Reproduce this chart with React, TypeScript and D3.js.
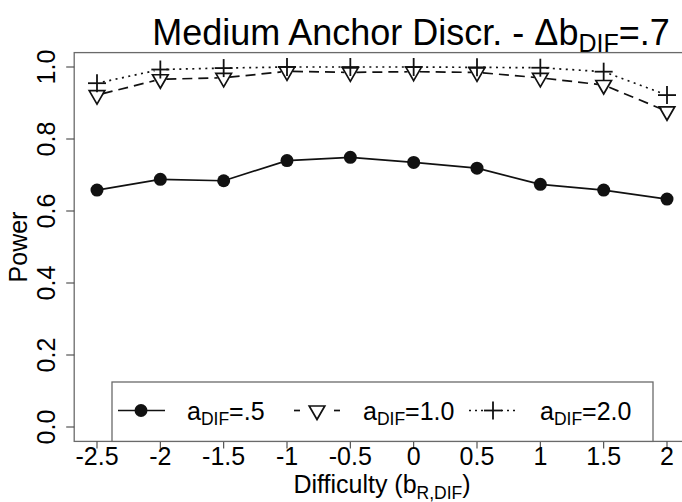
import React from "react";
import * as d3 from "d3";

const difficulty = [-2.5, -2, -1.5, -1, -0.5, 0, 0.5, 1, 1.5, 2];
const powerA05 = [0.658, 0.688, 0.684, 0.740, 0.749, 0.735, 0.719, 0.674, 0.658, 0.633];
const powerA10 = [0.922, 0.966, 0.970, 0.988, 0.985, 0.987, 0.985, 0.970, 0.950, 0.877];
const powerA20 = [0.955, 0.993, 0.997, 1.0, 1.0, 1.0, 0.999, 0.998, 0.987, 0.922];
const xTicks = [-2.5, -2, -1.5, -1, -0.5, 0, 0.5, 1, 1.5, 2];
const xTickLabels = ["-2.5", "-2", "-1.5", "-1", "-0.5", "0", "0.5", "1", "1.5", "2"];
const yTicks = [0, 0.2, 0.4, 0.6, 0.8, 1.0];
const yTickLabels = ["0.0", "0.2", "0.4", "0.6", "0.8", "1.0"];
const legendLabels = [".5", "1.0", "2.0"];

const FONT = "'Liberation Sans', Arial, Helvetica, sans-serif";
const INK = "#111";

function Circle({ cx, cy }: { cx: number; cy: number }) {
  return <circle cx={cx} cy={cy} r={6.5} fill={INK} stroke="none" />;
}
function TriDown({ cx, cy }: { cx: number; cy: number }) {
  const r = 9;
  const xc = r * 0.866;
  const pts = `${cx},${cy + r} ${cx + xc},${cy - r / 2} ${cx - xc},${cy - r / 2}`;
  return <polygon points={pts} fill="none" stroke={INK} strokeWidth={1.7} strokeLinejoin="miter" />;
}
function Plus({ cx, cy }: { cx: number; cy: number }) {
  const h = 9;
  return (
    <g stroke={INK} strokeWidth={1.8}>
      <line x1={cx - h} x2={cx + h} y1={cy} y2={cy} />
      <line x1={cx} x2={cx} y1={cy - h} y2={cy + h} />
    </g>
  );
}

export default function App() {
  const x = d3.scaleLinear().domain([-2.5, 2]).range([97, 667]);
  const y = d3.scaleLinear().domain([0, 1]).range([427, 67]);
  const left = x(-2.68);
  const right = x(2.18);
  const top = y(1.04);
  const bottom = y(-0.04);
  const cxPlot = (left + right) / 2;
  const cyPlot = (top + bottom) / 2;

  const series = [
    { values: powerA05, dash: undefined as string | undefined, gap: 0, marker: "circle" },
    { values: powerA10, dash: "10,6", gap: 6, marker: "tri" },
    { values: powerA20, dash: "2,4.5", gap: 6, marker: "plus" },
  ];

  const segs = (values: number[], gap: number) => {
    const out: { x1: number; y1: number; x2: number; y2: number }[] = [];
    for (let i = 0; i < values.length - 1; i++) {
      const ax = x(difficulty[i]);
      const ay = y(values[i]);
      const bx = x(difficulty[i + 1]);
      const by = y(values[i + 1]);
      const len = Math.hypot(bx - ax, by - ay);
      const ux = (bx - ax) / len;
      const uy = (by - ay) / len;
      out.push({ x1: ax + ux * gap, y1: ay + uy * gap, x2: bx - ux * gap, y2: by - uy * gap });
    }
    return out;
  };

  const drawMarker = (m: string, cx: number, cy: number, key: string | number) => {
    if (m === "circle") return <Circle key={key} cx={cx} cy={cy} />;
    if (m === "tri") return <TriDown key={key} cx={cx} cy={cy} />;
    return <Plus key={key} cx={cx} cy={cy} />;
  };

  // legend layout
  const legLeft = 112;
  const legRight = 653;
  const legTop = 382;
  const legY = 410.5;
  const legendItems = [
    { marker: "circle", cx: 141, pieces: [[118, 165]], dash: undefined as string | undefined, textX: 187 },
    { marker: "tri", cx: 317, pieces: [[294, 300], [334, 340]], dash: undefined, textX: 363 },
    { marker: "plus", cx: 493, pieces: [[469, 486], [501, 518]], dash: "2,4", textX: 540 },
  ];

  return (
    <div style={{ position: "absolute", left: 0, top: 0 }}>
      <svg width={682} height={502} viewBox="0 0 682 502" style={{ display: "block", background: "#fff" }} fontFamily={FONT}>
        <rect x={0} y={0} width={682} height={502} fill="#fff" />
        {/* title */}
        <text x={411} y={45} fontSize={36} textAnchor="middle" fill="#000">
          Medium Anchor Discr. - Δb
          <tspan dy={7} fontSize={25}>DIF</tspan>
          <tspan dy={-7} fontSize={36}>=.7</tspan>
        </text>

        {/* plot box */}
        <rect x={left} y={top} width={right - left} height={bottom - top} fill="none" stroke="#6a6a6a" strokeWidth={1.3} />

        {/* y axis ticks */}
        {yTicks.map((t, i) => (
          <g key={"y" + i}>
            <line x1={left - 8} x2={left} y1={y(t)} y2={y(t)} stroke="#444" strokeWidth={1.1} />
            <text
              transform={`translate(55,${y(t)}) rotate(-90)`}
              fontSize={25}
              textAnchor="middle"
              fill="#000"
            >
              {yTickLabels[i]}
            </text>
          </g>
        ))}
        {/* x axis ticks */}
        {xTicks.map((t, i) => (
          <g key={"x" + i}>
            <line x1={x(t)} x2={x(t)} y1={bottom} y2={bottom + 7} stroke="#444" strokeWidth={1.1} />
            <text x={x(t)} y={465} fontSize={25} textAnchor="middle" fill="#000">
              {xTickLabels[i]}
            </text>
          </g>
        ))}

        {/* axis titles */}
        <text x={cxPlot} y={493} fontSize={25} textAnchor="middle" fill="#000">
          Difficulty (b
          <tspan dy={6} fontSize={17.5}>R,DIF</tspan>
          <tspan dy={-6} fontSize={25}>)</tspan>
        </text>
        <text transform={`translate(27,${cyPlot}) rotate(-90)`} fontSize={25} textAnchor="middle" fill="#000">
          Power
        </text>

        {/* series */}
        {series.map((s, si) => (
          <g key={"s" + si}>
            {segs(s.values, s.gap).map((sg, i) => (
              <line
                key={i}
                {...sg}
                stroke={INK}
                strokeWidth={1.7}
                strokeDasharray={s.dash}
              />
            ))}
            {s.values.map((v, i) => drawMarker(s.marker, x(difficulty[i]), y(v), i))}
          </g>
        ))}

        {/* legend */}
        <rect x={legLeft} y={legTop} width={legRight - legLeft} height={bottom - legTop} fill="#fff" stroke="#6a6a6a" strokeWidth={1.3} />
        {legendItems.map((it, i) => (
          <g key={"l" + i}>
            {it.pieces.map((p, j) => (
              <line key={j} x1={p[0]} x2={p[1]} y1={legY} y2={legY} stroke={INK} strokeWidth={1.7} strokeDasharray={it.dash} />
            ))}
            {drawMarker(it.marker, it.cx, legY, "m")}
            <text x={it.textX} y={420} fontSize={25} fill="#000">
              a
              <tspan dy={5} fontSize={17.5}>DIF</tspan>
              <tspan dy={-5} fontSize={25}>={legendLabels[i]}</tspan>
            </text>
          </g>
        ))}
      </svg>
    </div>
  );
}
